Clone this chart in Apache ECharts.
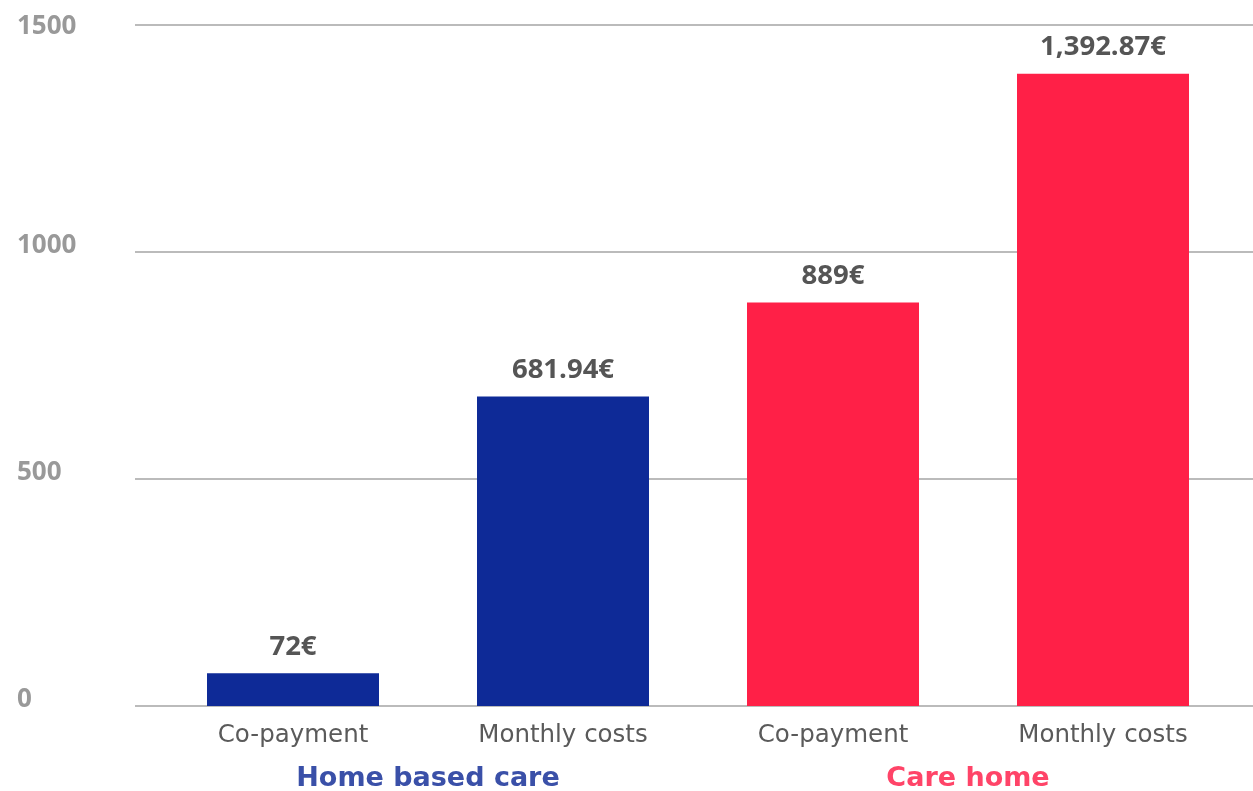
<!DOCTYPE html>
<html>
<head>
<meta charset="utf-8">
<script src="https://cdn.jsdelivr.net/npm/echarts@6/dist/echarts.min.js"></script>
<style>html,body{margin:0;padding:0;background:#fff}#c{width:1253px;height:791px}</style>
</head>
<body>
<div id="c"></div>
<script>
const categories = ["Co-payment", "Monthly costs", "Co-payment", "Monthly costs"];
const values = [72, 681.94, 889, 1392.87];
const valueLabels = ["72€", "681.94€", "889€", "1,392.87€"];
const groups = ["Home based care", "Care home"];
const barColors = ["#0e2a97", "#0e2a97", "#ff2047", "#ff2047"];
const groupColors = ["#3a50a8", "#ff4468"];
const yTicks = [0, 500, 1000, 1500];

const FONT = "'Open Sans', sans-serif";
const WIDE = "'DejaVu Sans', sans-serif";
const yLabelStyle = {fontFamily: FONT, fontSize: 26, fontWeight: 'bold', color: '#999'};
const chart = echarts.init(document.getElementById('c'));
chart.setOption({
  animation: false,
  grid: [
    {left: 135, right: 0, top: 25, bottom: 85, outerBoundsMode: 'none', containLabel: false},
    {left: 158, right: 15, top: 25, bottom: 85, outerBoundsMode: 'none', containLabel: false}
  ],
  xAxis: [
    {gridIndex: 0, type: 'category', data: categories, show: false},
    {gridIndex: 1, type: 'category', data: categories,
      axisLine: {show: false}, axisTick: {show: false},
      axisLabel: {fontFamily: WIDE, fontSize: 24.5, color: '#5a5a5a', margin: 17}},
    {gridIndex: 1, type: 'category', data: groups, position: 'bottom', offset: 45,
      axisLine: {show: false}, axisTick: {show: false},
      axisLabel: {fontFamily: WIDE, fontSize: 27, fontWeight: 'bold', margin: 14,
        formatter: (v, i) => '{g' + i + '|' + v + '}',
        rich: {
          g0: {color: groupColors[0], fontFamily: WIDE, fontSize: 27, fontWeight: 'bold'},
          g1: {color: groupColors[1], fontFamily: WIDE, fontSize: 27, fontWeight: 'bold'}
        }}}
  ],
  yAxis: [
    {gridIndex: 0, type: 'value', min: yTicks[0], max: yTicks[yTicks.length - 1], interval: 500,
      axisLine: {show: false}, axisTick: {show: false},
      splitLine: {lineStyle: {color: '#bbbbbb', width: 2}},
      axisLabel: {align: 'left', margin: 118, verticalAlign: 'middle',
        formatter: v => (v === yTicks[yTicks.length - 1] ? '{t|' : '{n|') + v + '}',
        rich: {
          t: Object.assign({padding: [3, 0, 0, 0]}, yLabelStyle),
          n: Object.assign({padding: [0, 0, 12, 0]}, yLabelStyle)
        }}},
    {gridIndex: 1, type: 'value', min: yTicks[0], max: yTicks[yTicks.length - 1], interval: 500, show: false}
  ],
  series: [
    {type: 'bar', xAxisIndex: 0, yAxisIndex: 0, data: []},
    {type: 'bar', xAxisIndex: 1, yAxisIndex: 1, barWidth: 172, z: 3,
      data: values.map((v, i) => ({value: v, itemStyle: {color: barColors[i]}})),
      label: {show: true, position: 'top', distance: 12,
        fontFamily: FONT, fontSize: 27.5, fontWeight: 'bold', color: '#555',
        formatter: p => valueLabels[p.dataIndex]}}
  ]
});
</script>
</body>
</html>
